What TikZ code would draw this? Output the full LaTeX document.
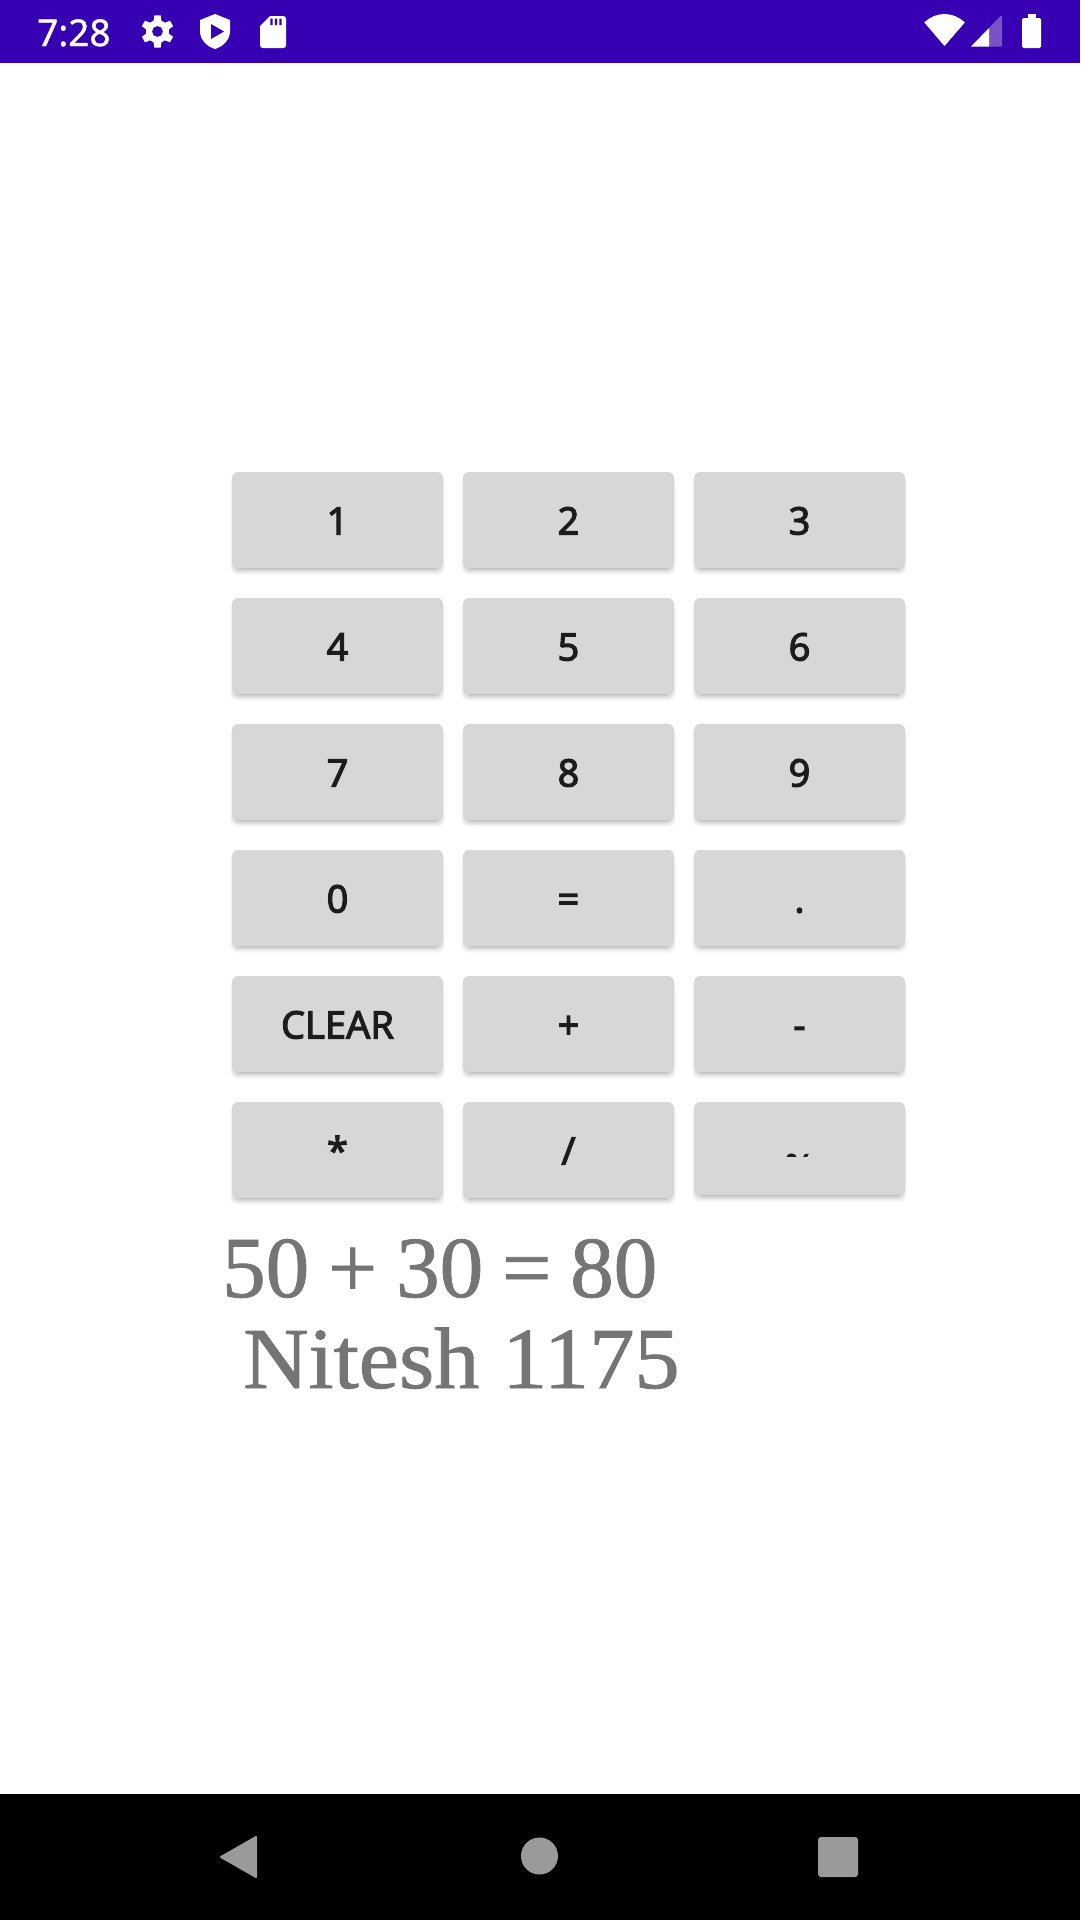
\documentclass[tikz,border=0pt]{standalone}
\usepackage{fontspec}
\setmainfont{Noto Sans}
\newfontfamily\btnfont[FakeBold=2.8]{Noto Sans}
\newfontfamily\clockfont[FakeBold=1]{Noto Sans}
\newfontfamily\resfonta[FakeBold=1]{Liberation Serif}
\newfontfamily\resfontb[FakeStretch=1.04,FakeBold=1]{Liberation Serif}
\definecolor{barpurple}{HTML}{3700B3}
\definecolor{keygrey}{HTML}{D6D7D7}
\definecolor{keyink}{HTML}{1C1C1C}
\definecolor{resgrey}{HTML}{757575}
\definecolor{navgrey}{HTML}{9A9A9A}
\definecolor{signaldim}{HTML}{7A52C8}
\tikzset{
  keyface/.style={fill=keygrey,rounded corners=6pt,inner sep=0pt,outer sep=0pt,
    minimum width=211pt,minimum height=96pt,text=keyink,
    font=\btnfont\fontsize{38}{38}\selectfont,text height=29pt,text depth=0pt},
  restext/.style={anchor=base west,inner sep=0pt,text=resgrey},
  iconfill/.style={fill=white,line join=round},
}
\newcommand{\keyshadow}[3]{%
  \foreach \s/\o in {7/0.02,6/0.025,5/0.03,4/0.035,3/0.04,2/0.05,1/0.06}{
    \fill[black,opacity=\o,rounded corners=7pt]
      (#1+3-\s*0.7,#2+3) rectangle (#1+208+\s*0.7,#2+#3+\s);
  }}
\newcommand{\makekey}[4]{%
  \keyshadow{#2}{#3}{96}
  \node[keyface,anchor=north west] (#1) at (#2,#3) {#4};}
\begin{document}
\begin{tikzpicture}[x=1pt,y=-1pt]
\useasboundingbox (0,0) rectangle (1080,1920);
\fill[white] (0,0) rectangle (1080,1920);
% status bar
\fill[barpurple] (0,0) rectangle (1080,63);
\node[anchor=base west,inner sep=0pt,text=white,font=\clockfont\fontsize{37}{37}\selectfont] (clock) at (37,46) {7:28};
% gear
\begin{scope}[shift={(157.5,31.5)}]
\fill[iconfill,even odd rule] (79:16.5)
  \foreach \a in {90,150,210,270,330,30}{ -- (\a-11:16.5) -- (\a+11:16.5) -- (\a+20:11.5) -- (\a+40:11.5)} -- cycle
  (0,0) circle (5.5);
\end{scope}
% shield
\fill[iconfill] (215,14) -- (230,20) -- (230,31) .. controls (230,40) and (223,46.5) .. (215,49)
  .. controls (207,46.5) and (200,40) .. (200,31) -- (200,20) -- cycle;
\fill[barpurple] (211,24) -- (224,31.5) -- (211,39) -- cycle;
% sd card
\fill[iconfill] (270,16) -- (283,16) .. controls (285,16) and (286,17) .. (286,19) -- (286,45)
  .. controls (286,47) and (285,48) .. (283,48) -- (263,48) .. controls (261,48) and (260,47) .. (260,45) -- (260,26) -- cycle;
\fill[barpurple] (270.3,18.5) rectangle (272.7,25) (274.8,18.5) rectangle (277.2,25) (279.3,18.5) rectangle (281.7,25);
% wifi
\fill[iconfill] (944.5,46) -- (924.3,22.5) .. controls (930,17) and (937,14) .. (944.5,14)
  .. controls (952,14) and (959,17) .. (964.8,22.5) -- cycle;
% signal
\fill[signaldim] (989,28) -- (1000.5,16) .. controls (1001.5,15.5) and (1002,16) .. (1002,17) -- (1002,46.5) -- (989,46.5) -- cycle;
\fill[white] (971,46.5) -- (989,28) -- (989,46.5) -- cycle;
% battery
\fill[iconfill] (1028,14) rectangle (1036,18);
\fill[iconfill,rounded corners=1.5pt] (1022,18) rectangle (1041,48);
% keys
\makekey{k1}{232}{472}{1}
\makekey{k2}{463}{472}{2}
\makekey{k3}{694}{472}{3}
\makekey{k4}{232}{598}{4}
\makekey{k5}{463}{598}{5}
\makekey{k6}{694}{598}{6}
\makekey{k7}{232}{724}{7}
\makekey{k8}{463}{724}{8}
\makekey{k9}{694}{724}{9}
\makekey{k0}{232}{850}{0}
\makekey{keq}{463}{850}{=}
\makekey{kdot}{694}{850}{.}
\makekey{kclear}{232}{976}{CLEAR}
\makekey{kplus}{463}{976}{+}
\makekey{kminus}{694}{976}{-}
\makekey{kmul}{232}{1102}{*}
\makekey{kdiv}{463}{1102}{/}
\keyshadow{694}{1102}{93}
\node[keyface,minimum height=93pt,anchor=north west] (kpct) at (694,1102) {};
\begin{scope}
\clip (694,1102) rectangle (905,1156.5);
\node[anchor=base,inner sep=0pt,text=keyink,font=\btnfont\fontsize{36}{36}\selectfont] (pct) at (799.5,1180) {\%};
\end{scope}
% result
\node[restext,font=\resfonta\fontsize{87}{87}\selectfont] (res1) at (222,1297) {\spaceskip=19pt 50 + 30 = 80};
\node[restext,font=\resfontb\fontsize{87}{87}\selectfont] (res2) at (243,1388) {Nitesh 1175};
% nav bar
\fill[black] (0,1794) rectangle (1080,1920);
\fill[navgrey,line join=round,draw=navgrey,line width=2pt] (221,1857) -- (256,1837) -- (256,1877) -- cycle;
\fill[navgrey] (539.5,1856) circle (18.5);
\fill[navgrey,rounded corners=3pt] (818,1837) rectangle (858,1877);
\end{tikzpicture}
\end{document}
